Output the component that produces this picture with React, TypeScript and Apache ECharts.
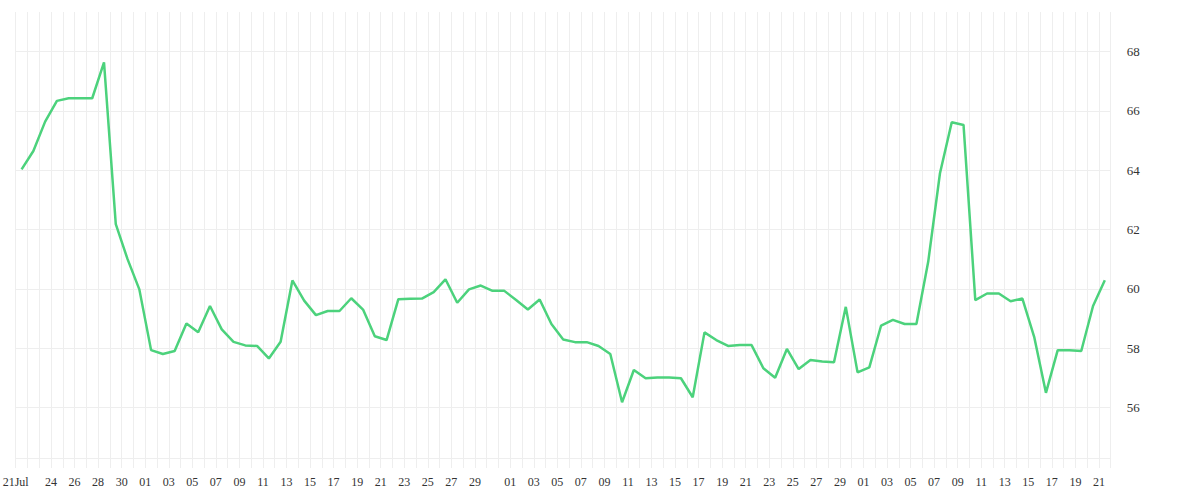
import React, { useEffect, useRef } from "react";
import * as echarts from "echarts";

// Tick labels at each day boundary: Jul 21 .. Oct 22 (94 boundaries)
const tickLabels: string[] = [
  "21Jul", "", "", "24", "", "26", "", "28", "", "30", "",
  "01", "", "03", "", "05", "", "07", "", "09", "", "11", "", "13", "", "15", "", "17", "", "19", "", "21", "", "23", "", "25", "", "27", "", "29", "", "",
  "01", "", "03", "", "05", "", "07", "", "09", "", "11", "", "13", "", "15", "", "17", "", "19", "", "21", "", "23", "", "25", "", "27", "", "29", "",
  "01", "", "03", "", "05", "", "07", "", "09", "", "11", "", "13", "", "15", "", "17", "", "19", "", "21", "",
];

// Daily values, Jul 21 .. Oct 21
const values: number[] = [
  64.03, 64.65, 65.64, 66.34, 66.43, 66.43, 66.43, 67.64, 62.18, 61.0,
  59.98, 57.93, 57.8, 57.9, 58.83, 58.53, 59.42, 58.63, 58.21, 58.09,
  58.07, 57.65, 58.21, 60.28, 59.6, 59.11, 59.25, 59.25, 59.68, 59.3,
  58.4, 58.27, 59.65, 59.66, 59.67, 59.89, 60.32, 59.53, 59.98, 60.11,
  59.93, 59.93, 59.62, 59.3, 59.64, 58.81, 58.29, 58.2, 58.2, 58.07,
  57.8, 56.17, 57.26, 56.98, 57.01, 57.01, 56.98, 56.34, 58.53, 58.27,
  58.07, 58.1, 58.1, 57.32, 57.0, 57.97, 57.29, 57.6, 57.55, 57.52,
  59.39, 57.18, 57.35, 58.76, 58.95, 58.81, 58.81, 60.91, 63.9, 65.62,
  65.53, 59.62, 59.84, 59.84, 59.58, 59.67, 58.38, 56.49, 57.93, 57.93,
  57.9, 59.42, 60.29,
];

const yMin = 54.29;
const yMax = 69.34;

export default function App() {
  const ref = useRef<HTMLDivElement>(null);
  useEffect(() => {
    if (!ref.current) return;
    const chart = echarts.init(ref.current, undefined, { renderer: "svg" });
    const start = new Date(2024, 6, 21);
    const dates = values.map((_, i) => {
      const d = new Date(start.getTime());
      d.setDate(start.getDate() + i);
      return `${d.getMonth() + 1}-${d.getDate()}`;
    });
    const gridColor = "#eeeeee";
    chart.setOption({
      animation: false,
      backgroundColor: "#ffffff",
      grid: {
        left: 15.7,
        right: 89.3,
        top: 12,
        bottom: 42,
        containLabel: false,
        outerBoundsMode: "none",
      },
      xAxis: [
        {
          type: "category",
          boundaryGap: false,
          data: tickLabels,
          axisLine: { show: true, lineStyle: { color: gridColor, width: 1 } },
          axisTick: { show: true, interval: 0, length: 10, lineStyle: { color: gridColor } },
          axisLabel: { interval: 0, margin: 18, color: "#333333", fontFamily: "serif", fontSize: 12 },
          splitLine: { show: true, interval: 0, lineStyle: { color: gridColor, width: 1 } },
        },
        {
          type: "category",
          boundaryGap: true,
          data: dates,
          show: false,
        },
      ],
      yAxis: {
        type: "value",
        position: "right",
        min: yMin,
        max: yMax,
        minInterval: 2,
        maxInterval: 2,
        axisLine: { show: false },
        axisTick: { show: false },
        axisLabel: {
          margin: 16,
          color: "#333333",
          fontFamily: "serif",
          fontSize: 13,
          formatter: (v: number) => (Math.abs(v - Math.round(v)) < 1e-6 && Math.round(v) % 2 === 0 ? String(Math.round(v)) : ""),
        },
        splitLine: { show: true, showMinLine: false, showMaxLine: false, lineStyle: { color: gridColor, width: 1 } },
      },
      series: [
        {
          type: "line",
          xAxisIndex: 1,
          data: values,
          symbol: "none",
          smooth: false,
          lineStyle: { color: "#4cd27c", width: 2.5 },
          itemStyle: { color: "#4cd27c" },
        },
      ],
    });
    return () => chart.dispose();
  }, []);
  return (
    <div
      ref={ref}
      style={{ position: "absolute", left: 0, top: 0, width: 1200, height: 500 }}
    />
  );
}
